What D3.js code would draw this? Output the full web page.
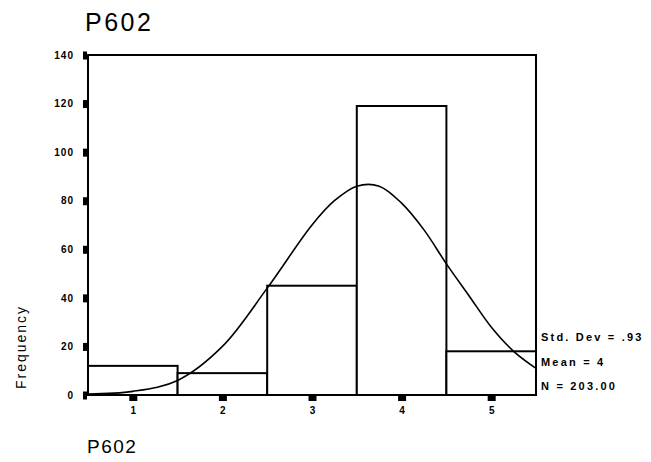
<!DOCTYPE html>
<html>
<head>
<meta charset="utf-8">
<script src="https://cdn.jsdelivr.net/npm/d3@7"></script>
<style>
  html, body { margin: 0; padding: 0; background: #fff; }
  svg { display: block; }
  text { font-family: "Liberation Sans", Arial, sans-serif; fill: #000; }
</style>
</head>
<body>
<svg id="chart" width="651" height="462"></svg>
<script>
// ---- data ----
const categories = [1, 2, 3, 4, 5];
const frequencies = [12, 9, 45, 119, 18];
const yTicks = [0, 20, 40, 60, 80, 100, 120, 140];
const xTicks = [1, 2, 3, 4, 5];
// normal curve overlay
const curveX = [0.5, 1.0, 1.5, 2.0, 2.5, 3.0, 3.25, 3.5, 3.75, 4.0, 4.25, 4.5, 4.75, 5.0, 5.25, 5.5];
const curveY = [0.4, 1.5, 6, 20, 44, 70, 80, 86, 86, 79, 68, 54, 41, 28, 18, 11];
const statLines = ["Std. Dev = .93", "Mean = 4", "N = 203.00"];
const title = "P602";
const xTitle = "P602";
const yTitle = "Frequency";

// ---- layout ----
const svg = d3.select("#chart");
svg.append("rect").attr("width", 651).attr("height", 462).attr("fill", "#fff");

const x = d3.scaleLinear().domain([0.5, 5.5]).range([88, 536]);
const y = d3.scaleLinear().domain([0, 140]).range([395, 55]);

// bars
svg.append("g").selectAll("rect")
  .data(categories)
  .join("rect")
  .attr("x", (d) => x(d - 0.5))
  .attr("width", (d) => x(d + 0.5) - x(d - 0.5))
  .attr("y", (d, i) => y(frequencies[i]))
  .attr("height", (d, i) => y(0) - y(frequencies[i]))
  .attr("fill", "#fff")
  .attr("stroke", "#000")
  .attr("stroke-width", 2);

// frame
svg.append("rect")
  .attr("x", x(0.5)).attr("y", y(140))
  .attr("width", x(5.5) - x(0.5)).attr("height", y(0) - y(140))
  .attr("fill", "none").attr("stroke", "#000").attr("stroke-width", 2);

// normal curve
const line = d3.line()
  .x((d, i) => x(curveX[i]))
  .y((d) => y(d))
  .curve(d3.curveCatmullRom);
svg.append("path")
  .datum(curveY)
  .attr("d", line)
  .attr("fill", "none")
  .attr("stroke", "#000")
  .attr("stroke-width", 1.6);

// y axis
const yAxis = d3.axisLeft(y).tickValues(yTicks).tickSize(0).tickPadding(14);
const gy = svg.append("g").attr("transform", `translate(${x(0.5)},0)`).call(yAxis);
gy.select(".domain").remove();
gy.selectAll("text")
  .style("font-family", '"Liberation Sans", Arial, sans-serif')
  .style("font-size", "10px").style("font-weight", "bold")
  .style("letter-spacing", "1px");
gy.selectAll(".tick").append("rect")
  .attr("x", -5).attr("y", -4).attr("width", 4).attr("height", 8).attr("fill", "#000");

// x axis
const xAxis = d3.axisBottom(x).tickValues(xTicks).tickSize(0).tickPadding(12).tickFormat(d3.format("d"));
const gx = svg.append("g").attr("transform", `translate(0,${y(0)})`).call(xAxis);
gx.select(".domain").remove();
gx.selectAll("text")
  .style("font-family", '"Liberation Sans", Arial, sans-serif')
  .style("font-size", "10px").style("font-weight", "bold");
gx.selectAll(".tick").append("rect")
  .attr("x", -4).attr("y", 1).attr("width", 8).attr("height", 5).attr("fill", "#000");

// titles
svg.append("text")
  .attr("x", 85).attr("y", 31)
  .style("font-size", "25px").style("letter-spacing", "2.5px")
  .text(title);
svg.append("text")
  .attr("x", 87).attr("y", 453)
  .style("font-size", "19px").style("letter-spacing", "1.5px")
  .text(xTitle);
svg.append("text")
  .attr("transform", "translate(26,347) rotate(-90)")
  .attr("text-anchor", "middle")
  .style("font-size", "14px").style("letter-spacing", "2px")
  .text(yTitle);

// statistics
svg.append("g").selectAll("text")
  .data(statLines)
  .join("text")
  .attr("x", 541)
  .attr("y", (d, i) => 341 + i * 24.5)
  .style("font-size", "11px").style("font-weight", "bold").style("letter-spacing", "2.2px")
  .text((d) => d);
</script>
</body>
</html>
